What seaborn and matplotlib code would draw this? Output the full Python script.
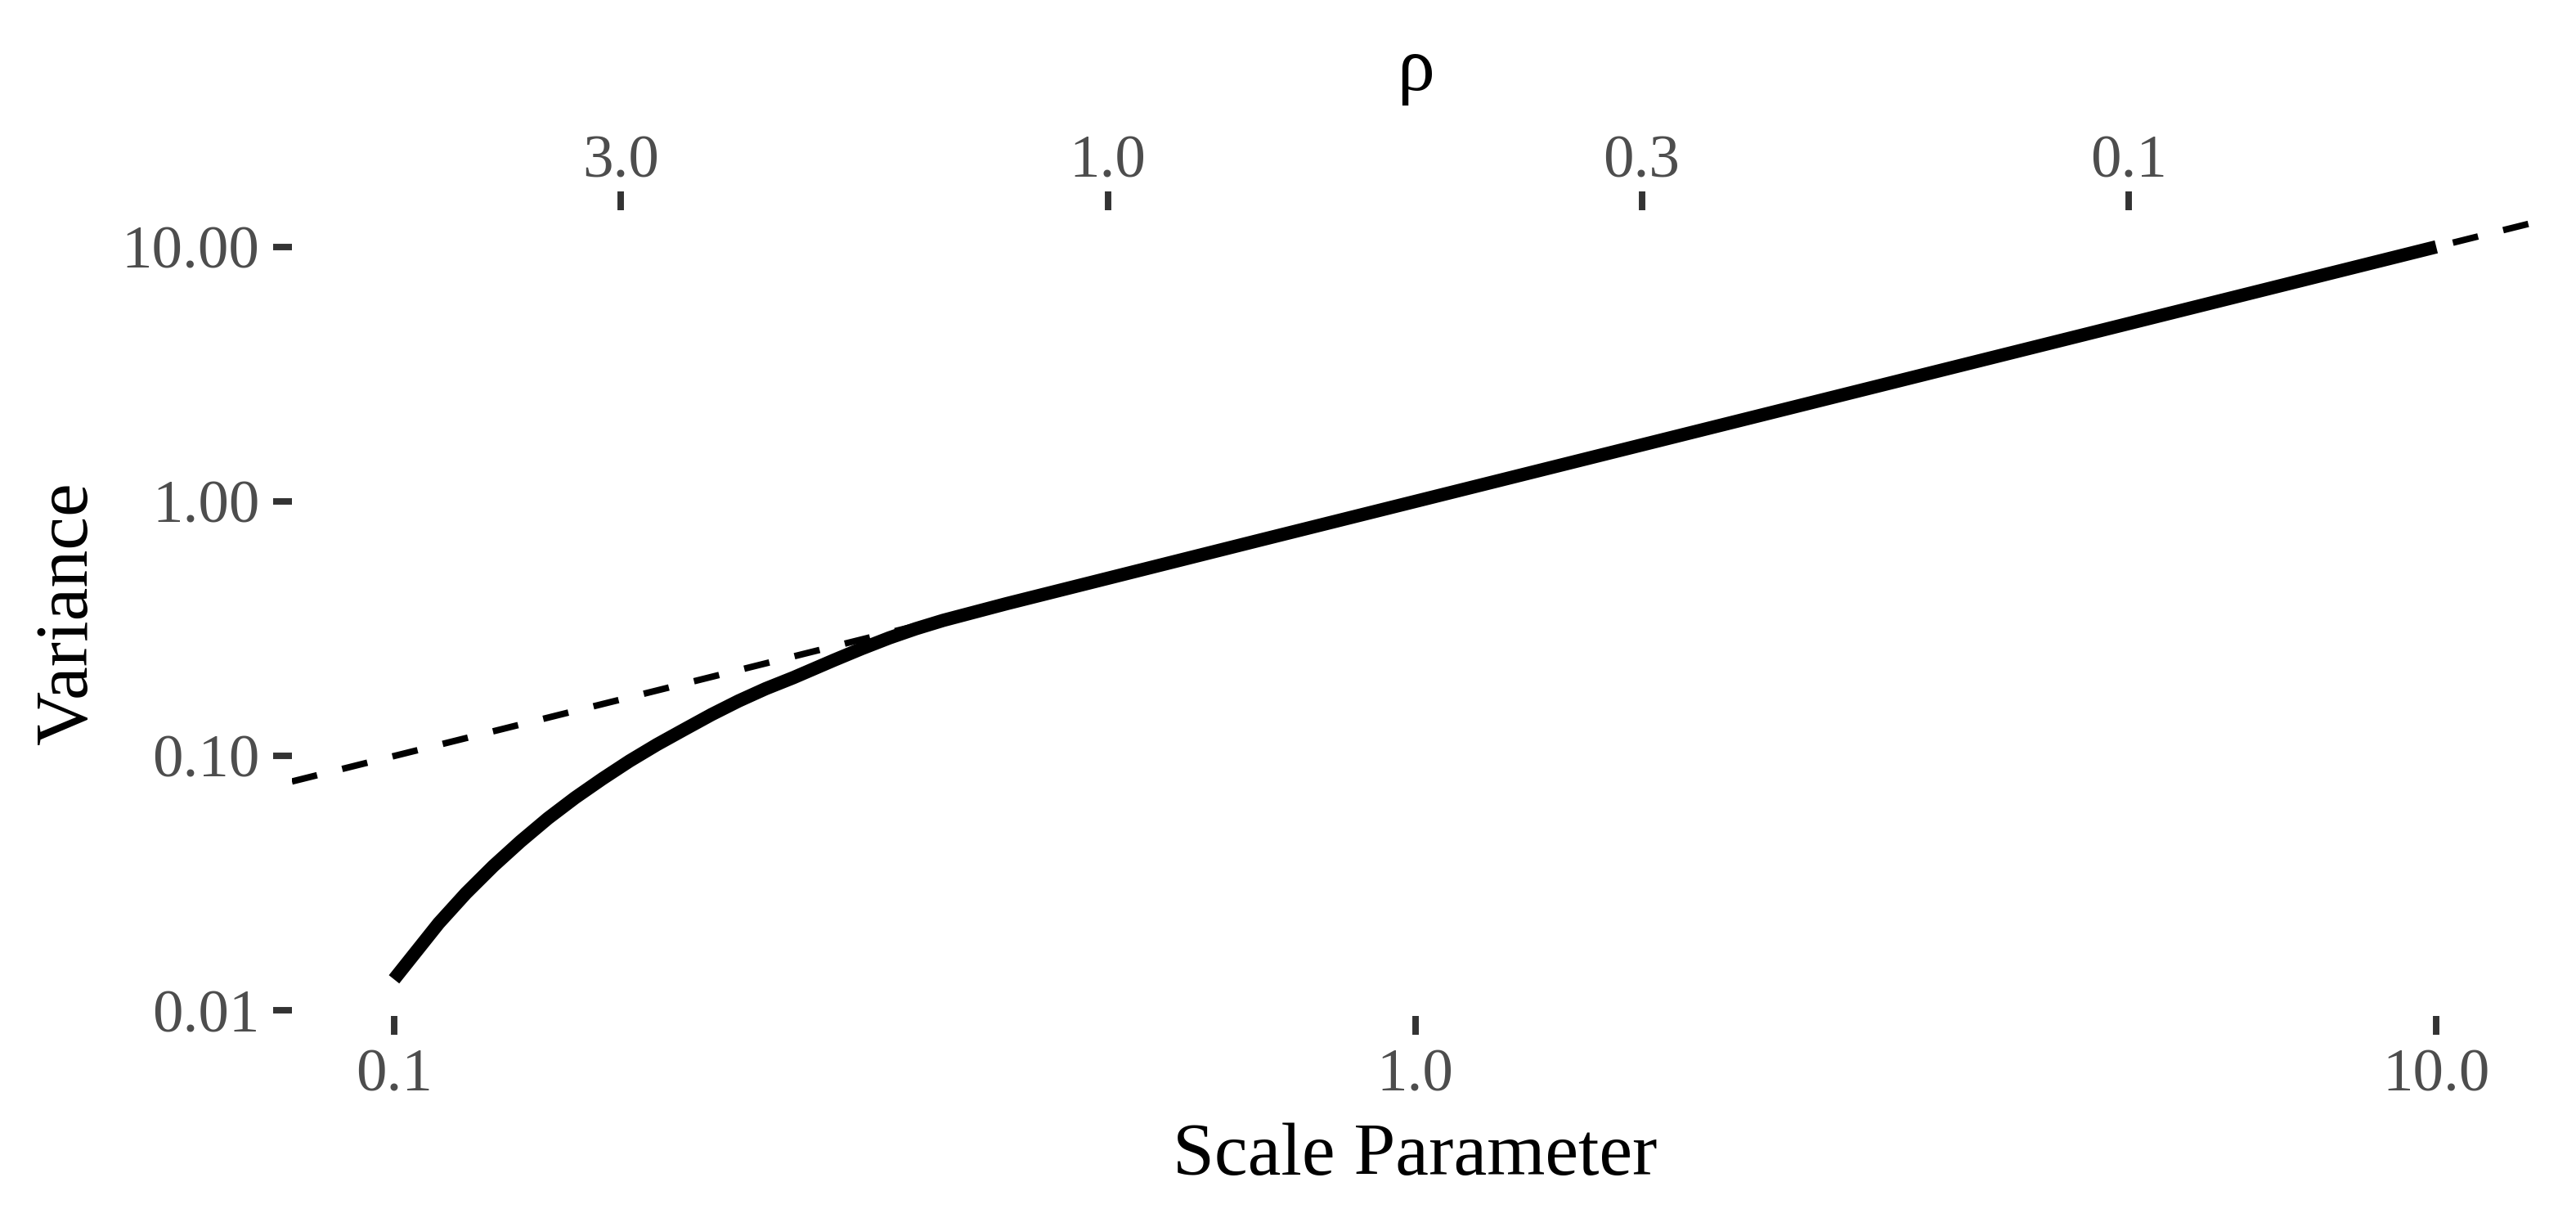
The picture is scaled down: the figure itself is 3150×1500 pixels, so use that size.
import numpy as np
import pandas as pd
import matplotlib
matplotlib.use("Agg")
import matplotlib.pyplot as plt
import seaborn as sns

# ---- data ----
scale_param = [0.1000, 0.1040, 0.1106, 0.1176, 0.1251, 0.1330, 0.1415, 0.1504,
               0.1600, 0.1701, 0.1809, 0.1923, 0.2046, 0.2175, 0.2312, 0.2460,
               0.2698, 0.2871, 0.3055, 0.3243, 0.3451, 0.398, 0.501,
               0.700, 1.000, 2.000, 5.000, 10.000]
variance = [0.01327, 0.01617, 0.02204, 0.02891, 0.03698, 0.04620, 0.05694, 0.06855,
            0.08143, 0.09565, 0.1109, 0.1270, 0.1455, 0.1646, 0.1839, 0.2031,
            0.2382, 0.2642, 0.2911, 0.3162, 0.3412, 0.3967, 0.500,
            0.700, 1.000, 2.000, 5.000, 10.000]
reference_x = [1.0, 10.0]          # identity reference line (variance = scale)
reference_y = [1.0, 10.0]

x_ticks = [0.1, 1.0, 10.0]
x_ticklabels = ["0.1", "1.0", "10.0"]
y_ticks = [0.01, 0.1, 1.0, 10.0]
y_ticklabels = ["0.01", "0.10", "1.00", "10.00"]
rho_ticks = [3.0, 1.0, 0.3, 0.1]
rho_ticklabels = ["3.0", "1.0", "0.3", "0.1"]

df = pd.DataFrame({"scale": scale_param, "variance": variance})

sns.set_theme(style="white")
plt.rcParams["font.family"] = ["Liberation Serif", "DejaVu Serif"]

TICK_COL = "#333333"
LAB_COL = "#4D4D4D"

fig = plt.figure(figsize=(10.5, 5), dpi=300)
fig.patch.set_facecolor("white")
ax = fig.add_axes([357 / 3150, 1 - 1242 / 1500, (3104 - 357) / 3150, (1242 - 257) / 1500])
ax.set_facecolor("white")

ax.set_xscale("log")
ax.set_yscale("log")

# dashed identity reference line (drawn beneath the curve)
ax.axline((reference_x[0], reference_y[0]), (reference_x[1], reference_y[1]),
          color="black", lw=1.9, linestyle=(0, (4, 4)), zorder=1)

sns.lineplot(data=df, x="scale", y="variance", ax=ax, color="black",
             lw=3.9, estimator=None, sort=True, zorder=2,
             solid_capstyle="butt", solid_joinstyle="round")

ax.margins(x=0.05, y=0.05)

for s in ax.spines.values():
    s.set_visible(False)
ax.grid(False)

ax.set_xticks(x_ticks)
ax.set_xticklabels(x_ticklabels)
ax.set_yticks(y_ticks)
ax.set_yticklabels(y_ticklabels)
ax.minorticks_off()
ax.tick_params(axis="both", which="major", length=5.5, width=1.9, color=TICK_COL,
               labelcolor=LAB_COL, labelsize=18, pad=4, direction="out",
               bottom=True, left=True)

ax.set_xlabel("Scale Parameter", fontsize=22, color="black")
ax.xaxis.label.set_va("baseline")
ax.xaxis.set_label_coords(0.5, -0.197)

ax.set_ylabel("Variance", fontsize=22, color="black")
ax.yaxis.label.set_va("center")
ax.yaxis.label.set_ha("center")
ax.yaxis.set_label_coords((84 - 357) / 2747, 0.5)

# secondary top axis: rho = 1 / (2 * scale)
sec = ax.secondary_xaxis("top", functions=(lambda s: 1.0 / (2.0 * s),
                                           lambda r: 1.0 / (2.0 * r)))
sec.set_xticks(rho_ticks)
sec.set_xticklabels(rho_ticklabels)
sec.minorticks_off()
for s in sec.spines.values():
    s.set_visible(False)
sec.tick_params(axis="x", which="major", length=5.5, width=1.9, color=TICK_COL,
                labelcolor=LAB_COL, labelsize=18, pad=0.3, direction="out")
sec.set_xlabel("ρ", fontsize=22, color="black")
sec.xaxis.label.set_va("baseline")
sec.xaxis.set_label_coords(0.5, 1 + (257 - 110) / 985, transform=ax.transAxes)

fig.savefig("out.png", dpi=300, facecolor="white")
